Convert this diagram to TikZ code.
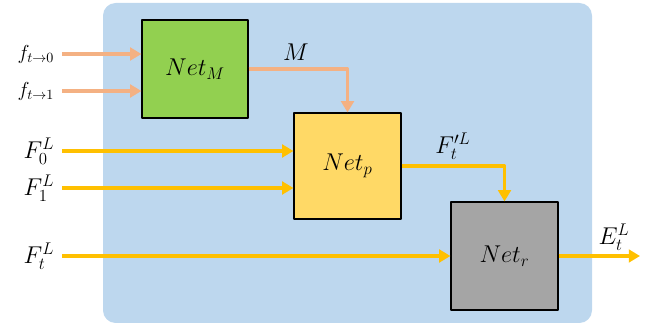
\documentclass[tikz,border=0pt]{standalone}
\usetikzlibrary{arrows.meta,positioning}
\definecolor{bgblue}{RGB}{189,215,238}
\definecolor{netgreen}{RGB}{146,208,80}
\definecolor{netyellow}{RGB}{255,217,102}
\definecolor{netgray}{RGB}{165,165,165}
\definecolor{flowsalmon}{RGB}{244,177,131}
\definecolor{flowgold}{RGB}{255,192,0}
\tikzset{
  netbox/.style={draw=black,line width=0.8pt,font=\LARGE},
  flow/.style={->,line width=2.6pt},
}
\begin{document}
\begin{tikzpicture}[x=0.025cm,y=-0.025cm,line join=round,>={Triangle[length=8pt,width=9pt]}]
\useasboundingbox (0,0) rectangle (657,326);
% background panel
\fill[bgblue,rounded corners=9pt] (103,3) rectangle (592,323);
% networks
\node[netbox,fill=netgreen,minimum width=2.65cm,minimum height=2.45cm] (netM) at (195,69) {$Net_M$};
\node[netbox,fill=netyellow,minimum width=2.675cm,minimum height=2.65cm] (netp) at (347.5,166) {$Net_p$};
\node[netbox,fill=netgray,minimum width=2.675cm,minimum height=2.7cm] (netr) at (504.5,256) {$Net_r$};
% free ends
\path
  (62,54) coordinate (f0)
  (62,91) coordinate (f1)
  (62,151) coordinate (F0)
  (62,188) coordinate (F1)
  (62,256) coordinate (Ft)
  (640,256) coordinate (Et)
  ;
% flows
\draw[flow,flowsalmon] (f0) -- (f0 -| netM.west);
\draw[flow,flowsalmon] (f1) -- (f1 -| netM.west);
\draw[flow,flowsalmon] (netM.east) -| (netp.north);
\draw[flow,flowgold] (F0) -- (F0 -| netp.west);
\draw[flow,flowgold] (F1) -- (F1 -| netp.west);
\draw[flow,flowgold] (Ft) -- (netr.west);
\draw[flow,flowgold] (netp.east) -| (netr.north);
\draw[flow,flowgold] (netr.east) -- (Et);
% labels
\foreach \pt/\txt in {f0/f_{t\rightarrow0},f1/f_{t\rightarrow1}}
  \node[left=2pt of \pt,font=\Large] {$\txt$};
\foreach \pt/\txt in {F0/F_0^L,F1/F_1^L,Ft/F_t^L}
  \node[left=2pt of \pt,font=\LARGE] {$\txt$};
\node[font=\LARGE] (lblM) at (296,52) {$M$};
\node[font=\LARGE] (lblFp) at (453,146) {$F_t'^L$};
\node[font=\LARGE] (lblE) at (614,237) {$E_t^L$};
\end{tikzpicture}
\end{document}
